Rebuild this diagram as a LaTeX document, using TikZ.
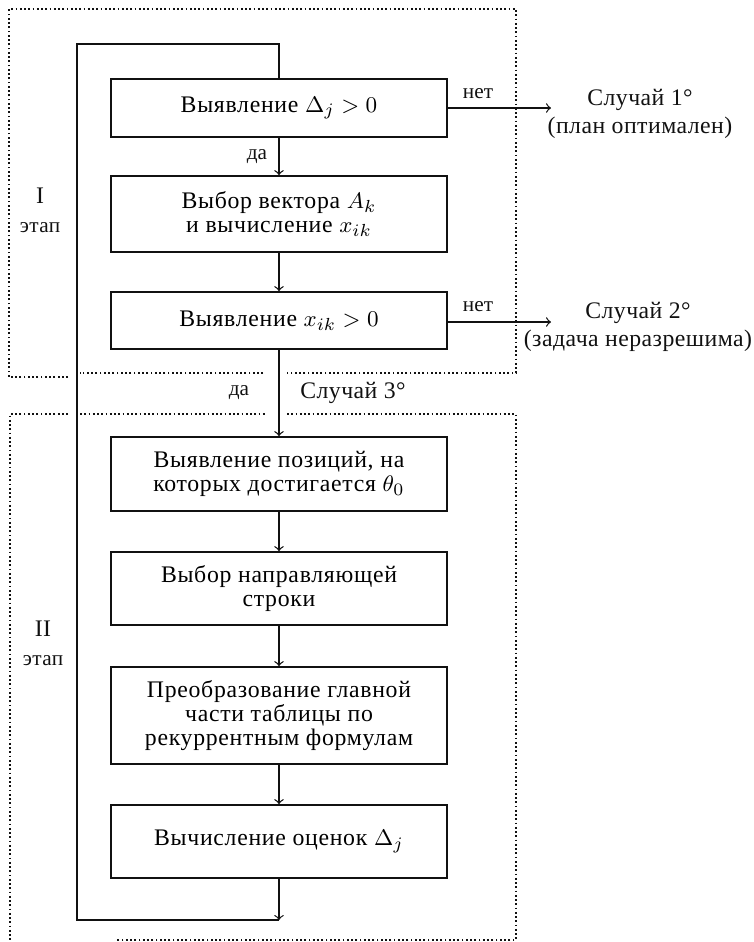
\documentclass[tikz,border=0pt]{standalone}
\usepackage{fontspec}
\setmainfont{Liberation Serif}
\usepackage{tikz}
\definecolor{SimplexInk}{HTML}{111111}

\begin{document}
\begin{tikzpicture}[x=0.4pt,y=-0.4pt,>=to,
    blok/.style={draw=SimplexInk,line width=0.7pt,minimum width=134.4pt,align=center,
      font=\fontsize{9.5}{9.6}\selectfont\addfontfeatures{LetterSpace=3}},
    ramka/.style={draw=SimplexInk,densely dotted,line width=0.7pt},
    metka/.style={text=SimplexInk,font=\fontsize{8.5}{9}\selectfont},
    sluchai/.style={text=SimplexInk,align=center,font=\fontsize{9.5}{11.5}\selectfont\addfontfeatures{LetterSpace=2}}]
    \useasboundingbox (0,0) rectangle (754,942);
    \node[blok,minimum height=23.2pt] (b1) at (279,108) {Выявление $\Delta_j>0$};
    \node[blok,minimum height=30.4pt] (b2) at (279,214) {Выбор вектора $A_k$\\и вычисление $x_{ik}$};
    \node[blok,minimum height=22.8pt] (b3) at (279,320.5) {Выявление $x_{ik}>0$};
    \node[blok,minimum height=29.6pt] (b4) at (279,474) {Выявление позиций, на\\которых достигается $\theta_0$};
    \node[blok,minimum height=29.2pt] (b5) at (279,588.5) {Выбор направляющей\\строки};
    \node[blok,minimum height=38.8pt] (b6) at (279,715.5) {Преобразование главной\\части таблицы по\\рекуррентным формулам};
    \node[blok,minimum height=29.2pt] (b7) at (279,841.5) {Вычисление оценок $\Delta_j$};
    \foreach \a/\b in {b1/b2,b2/b3,b3/b4,b4/b5,b5/b6,b6/b7} {
      \draw[SimplexInk,line width=0.5pt,->] (\a) -- (\b);
    }
    \coordinate (v1) at (279,44);
    \coordinate (v2) at (77,44);
    \coordinate (v3) at (77,920);
    \coordinate (v4) at (279,920);
    \draw[SimplexInk,line width=0.5pt,->] (b7) -- (v4);
    \draw[SimplexInk,line width=0.7pt] (v4) -- (v3) -- (v2) -- (v1) -- (b1);
    \coordinate (e1) at (551,108);
    \coordinate (e2) at (551,322);
    \draw[SimplexInk,line width=0.5pt,->] (b1.east) -- (e1);
    \draw[SimplexInk,line width=0.5pt,->] (b3.east |- e2) -- (e2);
    \node[metka] (n1) at (478,94) {нет};
    \node[metka] (n2) at (478,307) {нет};
    \node[metka] (d1) at (257,157) {да};
    \node[metka] (d2) at (239,393) {да};
    \node[sluchai] (k1) at (640,114) {Случай 1°\\(план оптимален)};
    \node[sluchai] (k2) at (638,327) {Случай 2°\\(задача неразрешима)};
    \node[sluchai] (k3) at (353,393) {Случай 3°};
    \node[sluchai] (s1) at (40,210) {I\\{\fontsize{8.5}{9}\selectfont этап}};
    \node[sluchai] (s2) at (43,643) {II\\{\fontsize{8.5}{9}\selectfont этап}};
    \draw[ramka] (68,377) -- (9,377) -- (9,9) -- (516,9) -- (516,373) -- (287,373);
    \draw[ramka] (263,373) -- (80,373);
    \draw[ramka] (68,414) -- (10,414) -- (10,940);
    \draw[ramka] (80,414) -- (265,414);
    \draw[ramka] (287,414) -- (516,414) -- (516,940) -- (116,940);
  \end{tikzpicture}
\end{document}
